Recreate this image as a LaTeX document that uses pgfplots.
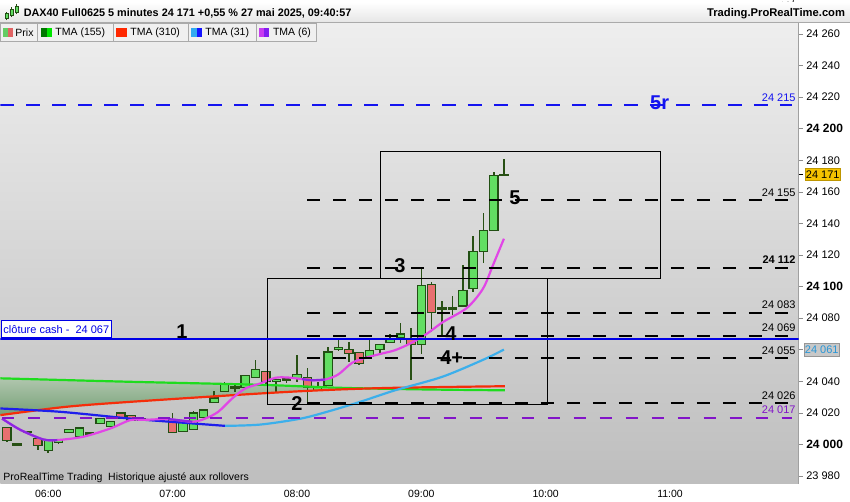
\documentclass[border=0pt]{standalone}
\usepackage{pgfplots}
\pgfplotsset{compat=1.18}
\usepackage{pgfplotstable}
\usepackage{fontspec}
\setmainfont{Liberation Sans}
\newcommand{\fs}[1]{\fontsize{#1}{#1}\selectfont}
\definecolor{bgtop}{RGB}{238,238,238}
\definecolor{bgbot}{RGB}{190,190,190}
\definecolor{cgreen}{RGB}{98,222,98}
\definecolor{cred}{RGB}{232,112,112}
\definecolor{cbord}{RGB}{34,80,20}
\definecolor{wick}{RGB}{40,80,20}
\definecolor{ma155}{RGB}{30,220,30}
\definecolor{ma310}{RGB}{245,45,10}
\definecolor{ma31d}{RGB}{30,30,235}
\definecolor{ma31l}{RGB}{60,175,235}
\definecolor{ma6m}{RGB}{225,70,230}
\definecolor{ma6p}{RGB}{140,40,225}
\definecolor{lvblue}{RGB}{20,20,240}
\definecolor{lvpurple}{RGB}{130,20,200}
\definecolor{cashblue}{RGB}{0,0,230}
\definecolor{fillA}{RGB}{176,198,174}
\definecolor{fillB}{RGB}{118,160,118}
\definecolor{gold}{RGB}{245,195,0}
\definecolor{goldb}{RGB}{190,150,0}
\definecolor{lgbox}{RGB}{240,240,240}
\definecolor{lgbord}{RGB}{170,170,170}
\definecolor{axgray}{RGB}{160,160,160}
\definecolor{tkgray}{RGB}{140,140,140}
\definecolor{hdbot}{RGB}{230,230,230}
\definecolor{boxg}{RGB}{200,200,200}
\definecolor{boxgb}{RGB}{150,150,150}
\definecolor{boxtxt}{RGB}{40,150,215}
\definecolor{ic1}{RGB}{100,205,100}
\definecolor{ic2}{RGB}{225,100,100}
\definecolor{ic3}{RGB}{0,120,0}
\definecolor{ic4}{RGB}{0,230,0}
\definecolor{ic5}{RGB}{255,40,0}
\definecolor{ic6}{RGB}{50,170,240}
\definecolor{ic7}{RGB}{20,20,255}
\definecolor{ic8}{RGB}{200,60,240}
\definecolor{ic9}{RGB}{130,30,240}

\pgfdeclareplotmark{candleG}{\pgfsetfillcolor{cgreen}\pgfsetstrokecolor{cbord}\pgfsetlinewidth{1.2pt}%
  \pgfpathrectangle{\pgfpoint{-4.15pt}{0pt}}{\pgfpoint{8.3pt}{\pgfplotspointmeta*1.580391pt}}\pgfusepathqfillstroke}
\pgfdeclareplotmark{candleR}{\pgfsetfillcolor{cred}\pgfsetstrokecolor{cbord}\pgfsetlinewidth{1.2pt}%
  \pgfpathrectangle{\pgfpoint{-4.15pt}{0pt}}{\pgfpoint{8.3pt}{\pgfplotspointmeta*1.580391pt}}\pgfusepathqfillstroke}
\pgfdeclareplotmark{candleD}{\pgfsetfillcolor{wick}\pgfsetstrokecolor{wick}\pgfsetlinewidth{1.2pt}%
  \pgfpathrectangle{\pgfpoint{-4.15pt}{0pt}}{\pgfpoint{8.3pt}{\pgfplotspointmeta*1.580391pt}}\pgfusepathqfillstroke}

% x = bar index (5 min, 0 = 06:00); o h l; d = close - open; m, e = wick middle and half range
\pgfplotstableread{
x o h l d m e
0 23996.2 24003.4 23994.3 7.2 23998.85 4.55
1 24001.3 24003.2 24000.4 1.9 24001.8 1.4
2 24007.8 24009.7 24007.8 1.9 24008.75 0.95
3 24005.1 24010.4 24005.1 5.3 24007.75 2.65
5 24013.3 24016.7 24013.3 3.4 24015.0 1.7
6 24011.6 24014.8 24011.6 3.2 24013.2 1.6
9 24015.0 24016.5 24015.0 1.5 24015.75 0.75
13 24008.4 24014.4 24008.4 6.0 24011.4 3.0
14 24009.7 24021.1 24009.0 10.3 24015.05 6.05
15 24017.3 24021.8 24017.3 4.5 24019.55 2.25
16 24026.6 24033.8 24026.6 2.9 24030.2 3.6
17 24033.8 24039.5 24033.8 4.8 24036.65 2.85
19 24035.9 24043.9 24035.9 8.0 24039.9 4.0
20 24042.6 24053.4 24042.6 5.1 24048.0 5.4
22 24039.7 24041.4 24033.3 1.7 24037.35 4.05
24 24041.7 24056.9 24039.7 2.8 24048.3 8.6
26 24034.4 24039.7 24034.4 1.5 24037.05 2.65
27 24037.6 24061.8 24037.6 21.0 24049.7 12.1
28 24060.1 24066.0 24059.3 1.5 24062.65 3.35
31 24055.5 24066.0 24054.0 4.2 24060.0 6.0
32 24060.3 24063.2 24057.0 2.9 24060.1 3.1
33 24064.5 24070.2 24064.5 2.5 24067.35 2.85
34 24067.5 24077.0 24064.5 2.5 24070.75 6.25
36 24063.3 24111.8 24057.6 37.5 24084.7 27.1
40 24087.7 24113.5 24087.7 10.0 24100.6 12.9
41 24098.7 24132.0 24096.6 23.6 24114.3 17.7
42 24122.3 24146.6 24115.1 13.3 24130.85 15.75
43 24135.6 24172.5 24135.6 34.8 24154.05 18.45
}\greenC
\pgfplotstableread{
x o h l d m e
-4 24010.6 24010.6 24001.3 -8.1 24005.95 4.65
-1 24003.6 24003.6 23996.2 -4.0 23999.9 3.7
7 24019.9 24019.9 24016.4 -3.5 24018.15 1.75
8 24018.6 24018.6 24015.4 -3.2 24017.0 1.6
12 24016.0 24020.2 24007.6 -8.4 24013.9 6.3
21 24046.0 24046.0 24038.4 -6.3 24042.2 3.8
25 24042.4 24048.5 24025.9 -6.5 24037.2 11.3
29 24060.1 24065.0 24052.3 -2.3 24058.65 6.35
30 24058.0 24058.0 24050.5 -6.8 24054.25 3.75
35 24067.0 24073.8 24040.7 -3.7 24057.25 16.55
37 24101.5 24102.9 24071.3 -18.0 24087.1 15.8
}\redC
\pgfplotstableread{
x o h l d m e
-3 24000.4 24000.4 23999.6 -0.8 24000.0 0.4
-2 24008.4 24008.4 24007.6 -0.8 24008.0 0.4
4 24007.4 24007.4 24006.6 -0.8 24007.0 0.4
10 24015.9 24015.9 24015.1 -0.8 24015.5 0.4
11 24016.4 24016.4 24015.6 -0.8 24016.0 0.4
18 24036.4 24038.8 24033.3 -0.8 24036.05 2.75
23 24041.5 24042.8 24039.2 -0.8 24041.0 1.8
38 24086.4 24090.7 24068.1 -0.8 24079.4 11.3
39 24086.4 24093.9 24081.8 -0.8 24087.85 6.05
44 24171.2 24180.9 24170.4 -0.8 24175.65 5.25
}\dojiC

\pgfplotsset{
  wickplot/.style={draw=none, mark=none, forget plot,
    error bars/.cd, y dir=both, y explicit, error mark=none,
    error bar style={draw=wick, line width=1.6pt}},
  bodyplot/.style={only marks, scatter, mark=#1, forget plot,
    point meta=explicit symbolic,
    scatter/@pre marker code/.code={}, scatter/@post marker code/.code={}},
  lvl/.style={black, line width=2pt, dash pattern=on 13pt off 13pt},
}

\begin{document}
\begin{tikzpicture}
\fill[white] (0pt,0pt) rectangle (850pt,500pt);
\begin{axis}[
  at={(0pt,18pt)}, anchor=south west,
  width=799pt, height=461pt, scale only axis,
  xmin=-4.629, xmax=72.42, ymin=23975.1, ymax=24266.8,
  clip mode=individual,
  axis background/.style={top color=bgtop, bottom color=bgbot},
  axis y line*=right, axis x line*=bottom,
  x axis line style={draw=none},
  y axis line style={draw=axgray, line width=0.8pt},
  xtick={0,12,24,36,48,60},
  xticklabels={06:00,07:00,08:00,09:00,10:00,11:00},
  xticklabel style={font=\fs{10.5}, text=black, yshift=1.5pt},
  ytick={23980,24000,...,24260},
  yticklabels={23 980,\textbf{\fs{12}24 000},24 020,24 040,24 060,24 080,\textbf{\fs{12}24 100},24 120,24 140,24 160,24 180,\textbf{\fs{12}24 200},24 220,24 240,24 260},
  minor y tick num=1,
  tick align=outside,
  major tick length=4pt, minor tick length=4pt,
  tick style={draw=tkgray, line width=0.6pt},
  xtick style={draw=none},
  yticklabel style={font=\fs{11}, text=black},
]
% band between TMA155 and TMA310
\addplot[draw=none, top color=fillA, bottom color=fillB, forget plot] coordinates {
(-4.63,24041.9) (7.91,24039.7) (20.44,24037.8) (28.16,24035.9) (31.52,24035.46)
(27.19,24034.6) (20.44,24032.3) (7.91,24027.0) (1.64,24023.8) (-4.63,24018.6)} -- cycle;

% candles
\addplot[wickplot] table[x=x, y=m, y error=e] {\greenC};
\addplot[wickplot] table[x=x, y=m, y error=e] {\redC};
\addplot[wickplot] table[x=x, y=m, y error=e] {\dojiC};
\addplot[bodyplot=candleG] table[x=x, y=o, meta=d] {\greenC};
\addplot[bodyplot=candleR] table[x=x, y=o, meta=d] {\redC};
\addplot[bodyplot=candleD] table[x=x, y=o, meta=d] {\dojiC};

% moving averages
\addplot[ma155, line width=2.2pt, smooth] coordinates {(-4.63,24041.9) (7.91,24039.7) (20.44,24037.8) (28.16,24035.9) (35.87,24034.9) (44.07,24034.3)};
\addplot[ma310, line width=2.2pt, smooth] coordinates {(-4.63,24018.6) (1.64,24023.8) (7.91,24027.0) (20.44,24032.3) (27.19,24034.6) (33.46,24035.9) (44.07,24036.9)};
\addplot[ma31d, line width=2.2pt, smooth] coordinates {(-4.63,24022.8) (1.16,24020.7) (7.91,24016.4) (11.76,24014.4) (17.07,24011.8)};
\addplot[ma31l, line width=2.2pt, smooth] coordinates {(17.07,24011.8) (20.44,24012.6) (24.3,24016.3) (26.9,24020.7) (30.09,24027.0) (33.46,24034.3) (37.99,24042.8) (41.95,24053.6) (43.97,24060.1)};
\addplot[ma6m, line width=2.2pt, smooth] coordinates {
(-4.46,24016.4) (-2.7,24009.3) (-0.48,24003.2) (0.87,24002.8) (3.37,24004.9) (5.98,24010.1) (7.9,24015.4) (9.35,24015.6) (11.57,24016.1) (13.9,24014.4) (15.14,24016.4) (16.4,24020.7) (17.74,24029.1) (19.0,24035.4) (20.44,24038.6) (21.89,24042.2) (23.14,24042.4) (24.49,24041.4) (25.46,24040.7) (26.71,24041.1) (27.97,24044.3) (29.32,24051.7) (30.57,24054.8) (32.21,24057.6) (33.46,24059.7) (34.91,24063.9) (36.55,24070.2) (38.1,24077.6) (40.4,24086.5) (41.95,24098.7) (42.91,24113.5) (43.97,24130.3)};
\addplot[ma6p, line width=2.2pt, smooth] coordinates {(-4.46,24016.4) (-2.7,24009.3) (-0.48,24003.2) (0.87,24002.8)};
\addplot[ma6p, line width=2.2pt, smooth] coordinates {(11.57,24016.1) (13.9,24014.4)};
\addplot[ma6p, line width=2.2pt, smooth] coordinates {(24.49,24041.4) (25.46,24040.7) (26.71,24041.1)};

% boxes
\addplot[black, line width=0.8pt] coordinates {(21.12,24025.7) (48.12,24025.7) (48.12,24105.4) (21.12,24105.4)} -- cycle;
\addplot[black, line width=0.8pt] coordinates {(32.02,24105.4) (59.11,24105.4) (59.11,24185.8) (32.02,24185.8)} -- cycle;

% levels
\addplot[lvl] coordinates {(24.98,24155) (71.8,24155)};
\addplot[lvl] coordinates {(24.98,24112) (71.8,24112)};
\addplot[lvl] coordinates {(24.98,24083) (71.8,24083)};
\addplot[lvl] coordinates {(24.98,24069) (71.8,24069)};
\addplot[lvl] coordinates {(24.98,24055) (71.8,24055)};
\addplot[lvl] coordinates {(24.98,24026) (71.8,24026)};
\addplot[lvpurple, line width=2pt, dash pattern=on 12pt off 14pt] coordinates {(-4.46,24017) (71.8,24017)};
\addplot[lvblue, line width=2pt, dash pattern=on 14pt off 12pt] coordinates {(-4.629,24215) (71.8,24215)};
\addplot[cashblue, line width=2pt] coordinates {(-4.629,24067) (72.42,24067)};

% level labels
\node[anchor=east, inner sep=0pt, font=\fs{11}, text=lvblue] at (axis cs:72.13,24219.4) {24 215};
\node[anchor=east, inner sep=0pt, font=\fs{11}] at (axis cs:72.13,24159.5) {24 155};
\node[anchor=east, inner sep=0pt, font=\fs{11}\bfseries] at (axis cs:72.13,24117.3) {24 112};
\node[anchor=east, inner sep=0pt, font=\fs{11}] at (axis cs:72.13,24088.2) {24 083};
\node[anchor=east, inner sep=0pt, font=\fs{11}] at (axis cs:72.13,24073.8) {24 069};
\node[anchor=east, inner sep=0pt, font=\fs{11}] at (axis cs:72.13,24059.3) {24 055};
\node[anchor=east, inner sep=0pt, font=\fs{11}] at (axis cs:72.13,24030.8) {24 026};
\node[anchor=east, inner sep=0pt, font=\fs{11}, text=lvpurple] at (axis cs:72.13,24021.8) {24 017};

% wave labels
\node[font=\fs{20}\bfseries, inner sep=0pt] at (axis cs:12.9,24071.3) {1};
\node[font=\fs{20}\bfseries, inner sep=0pt] at (axis cs:24.0,24025.7) {2};
\node[font=\fs{20}\bfseries, inner sep=0pt] at (axis cs:33.94,24113.1) {3};
\node[font=\fs{20}\bfseries, inner sep=0pt] at (axis cs:38.86,24070.2) {4};
\node[font=\fs{20}\bfseries, inner sep=0pt] at (axis cs:38.93,24055.3) {4+};
\node[font=\fs{20}\bfseries, inner sep=0pt] at (axis cs:45.03,24156.4) {5};
\node[font=\fs{20}\bfseries, inner sep=0pt, text=lvblue] at (axis cs:59.0,24216.2) {5r};

% cash label
\node[anchor=south west, draw=cashblue, fill=white, text=cashblue, font=\fs{11}, inner xsep=2.5pt, inner ysep=0pt, minimum height=17pt, line width=0.8pt] at (axis cs:-4.60,24067.4) {clôture cash -\ \ 24 067};

% price boxes on axis
\draw[black, line width=0.8pt] (axis cs:72.42,24171) -- ++(4pt,0pt);
\node[anchor=west, fill=gold, draw=goldb, inner xsep=1pt, inner ysep=2.2pt, font=\fs{11}] at (axis cs:73.0,24171) {24 171};
\node[anchor=west, fill=boxg, draw=boxgb, text=boxtxt, inner xsep=1pt, inner ysep=2.2pt, font=\fs{11}] at (axis cs:72.9,24060) {24 061};
\end{axis}

% bottom note
\node[anchor=west, inner sep=0pt, font=\fs{10.5}] at (3pt,24pt) {ProRealTime Trading\ \ Historique ajusté aux rollovers};

% header
\shade[top color=white, bottom color=hdbot] (0pt,480pt) rectangle (850pt,500pt);
\draw[color=lgbord, line width=0.6pt] (0pt,480pt) -- (850pt,480pt);
\node[anchor=west, inner sep=0pt, font=\fs{10.85}\bfseries] at (23.3pt,489pt) {DAX40 Full0625 5 minutes 24 171 +0,55 \% 27 mai 2025, 09:40:57};
\node[anchor=east, inner sep=0pt, font=\fs{11.2}\bfseries] at (845.5pt,488.5pt) {Trading.ProRealTime.com};
% header icon
\draw[color=wick, line width=0.8pt] (6pt,482pt) -- (6pt,490pt) (11pt,485pt) -- (11pt,495pt) (16pt,488pt) -- (16pt,498pt);
\filldraw[fill=cgreen, draw=cbord, line width=0.4pt] (4.5pt,484pt) rectangle (7.5pt,489pt);
\filldraw[fill=cgreen, draw=cbord, line width=0.4pt] (9.5pt,487pt) rectangle (12.5pt,493pt);
\filldraw[fill=cgreen, draw=cbord, line width=0.4pt] (14.5pt,490pt) rectangle (17.5pt,496pt);

% legend row
\foreach \a/\b in {0/37.3, 37.3/112.7, 112.7/187.7, 187.7/255.7, 255.7/316.7} {
  \draw[fill=lgbox, draw=lgbord, line width=0.6pt] (\a pt,461pt) rectangle (\b pt,479pt);
}
\fill[fill=ic1] (2.7pt,465.3pt) rectangle (7.7pt,474pt);
\fill[fill=ic2] (7.7pt,465.3pt) rectangle (12.7pt,474pt);
\fill[fill=ic3] (41pt,465.3pt) rectangle (46.3pt,474pt);
\fill[fill=ic4] (46.3pt,465.3pt) rectangle (51.7pt,474pt);
\fill[fill=ic5] (116pt,465.3pt) rectangle (126.7pt,474pt);
\fill[fill=ic6] (191pt,465.3pt) rectangle (196.5pt,474pt);
\fill[fill=ic7] (196.5pt,465.3pt) rectangle (202pt,474pt);
\fill[fill=ic8] (259pt,465.3pt) rectangle (264pt,474pt);
\fill[fill=ic9] (264pt,465.3pt) rectangle (269.3pt,474pt);
\node[anchor=west, inner sep=0pt, font=\fs{10.5}] at (15pt,469.7pt) {Prix};
\node[anchor=west, inner sep=0pt, font=\fs{10.5}] at (55pt,469.7pt) {TMA (155)};
\node[anchor=west, inner sep=0pt, font=\fs{10.5}] at (130pt,469.7pt) {TMA (310)};
\node[anchor=west, inner sep=0pt, font=\fs{10.5}] at (205pt,469.7pt) {TMA (31)};
\node[anchor=west, inner sep=0pt, font=\fs{10.5}] at (272.7pt,469.7pt) {TMA (6)};
\end{tikzpicture}
\end{document}
